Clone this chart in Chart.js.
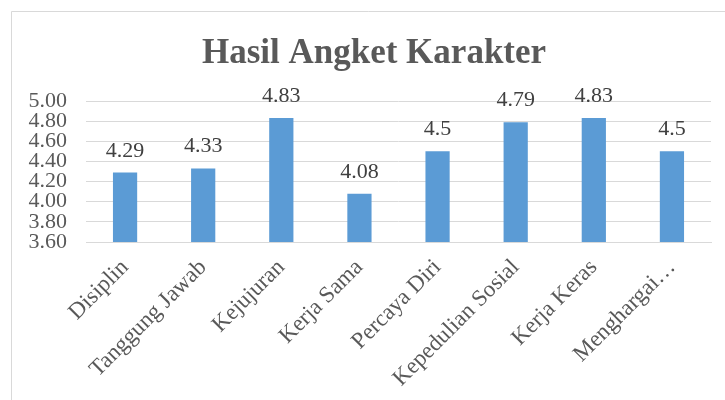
<!DOCTYPE html>
<html>
<head>
<meta charset="utf-8">
<script src="https://cdn.jsdelivr.net/npm/chart.js@4/dist/chart.umd.min.js"></script>
<style>
  html, body { margin: 0; padding: 0; background: #fff; }
  #wrap { width: 725px; height: 400px; }
</style>
</head>
<body>
<div id="wrap"><canvas id="chart" width="725" height="400"></canvas></div>
<script>
// data
const categories = ["Disiplin", "Tanggung Jawab", "Kejujuran", "Kerja Sama",
    "Percaya Diri", "Kepedulian Sosial", "Kerja Keras", "Menghargai…"];
const scores = [4.29, 4.33, 4.83, 4.08, 4.5, 4.79, 4.83, 4.5];
const yTicks = [3.6, 3.8, 4.0, 4.2, 4.4, 4.6, 4.8, 5.0];
const chartTitle = "Hasil Angket Karakter";

const serif = "'Liberation Serif', 'Times New Roman', serif";

// white page, the light frame of the original chart box and the title
const frame = {
    id: "frame",
    beforeDraw(chart) {
        const ctx = chart.ctx;
        ctx.save();
        ctx.fillStyle = "#fff";
        ctx.fillRect(0, 0, chart.width, chart.height);
        ctx.strokeStyle = "#d9d9d9";
        ctx.lineWidth = 1;
        ctx.beginPath();
        ctx.moveTo(11.5, chart.height);
        ctx.lineTo(11.5, 11.5);
        ctx.lineTo(chart.width, 11.5);
        ctx.stroke();

        ctx.font = "bold 35px " + serif;
        ctx.fillStyle = "#595959";
        ctx.textAlign = "center";
        ctx.textBaseline = "alphabetic";
        ctx.fillText(chartTitle, 374, 63);
        ctx.restore();
    },
};

// value labels above each bar
const barValues = {
    id: "barValues",
    afterDatasetsDraw(chart) {
        const ctx = chart.ctx;
        const meta = chart.getDatasetMeta(0);
        ctx.save();
        ctx.font = "22px " + serif;
        ctx.fillStyle = "#404040";
        ctx.textAlign = "center";
        ctx.textBaseline = "alphabetic";
        meta.data.forEach(function (bar, i) {
            ctx.fillText(String(scores[i]), bar.x, bar.y - 16);
        });
        ctx.restore();
    },
};

new Chart(document.getElementById("chart").getContext("2d"), {
    type: "bar",
    data: {
        labels: categories,
        datasets: [
            {
                label: "Skor",
                data: scores,
                backgroundColor: "#5b9bd5",
                borderWidth: 0,
                barPercentage: 0.31,
                categoryPercentage: 1,
            },
        ],
    },
    options: {
        responsive: false,
        animation: false,
        layout: {
            padding: { top: 101, left: 0, right: 14, bottom: 0 },
        },
        plugins: {
            legend: { display: false },
            tooltip: { enabled: false },
            title: { display: false },
        },
        scales: {
            x: {
                grid: { display: false, drawTicks: false },
                border: { display: true, color: "#d9d9d9", width: 1 },
                ticks: {
                    color: "#595959",
                    font: { family: serif, size: 23 },
                    minRotation: 45,
                    maxRotation: 45,
                    padding: 12,
                    autoSkip: false,
                },
                afterFit(scale) {
                    scale.height = 158;
                },
            },
            y: {
                min: 3.6,
                max: 5.0,
                afterBuildTicks(scale) {
                    scale.ticks = yTicks.map(function (v) { return { value: v }; });
                },
                grid: { color: "#d9d9d9", lineWidth: 1, drawTicks: false },
                border: { display: false },
                ticks: {
                    color: "#595959",
                    font: { family: serif, size: 22, lineHeight: 0.9 },
                    padding: 19,
                    autoSkip: false,
                    callback: function (v) { return Number(v).toFixed(2); },
                },
                afterFit(scale) {
                    scale.width = 86;
                },
            },
        },
    },
    plugins: [frame, barValues],
});
</script>
</body>
</html>
